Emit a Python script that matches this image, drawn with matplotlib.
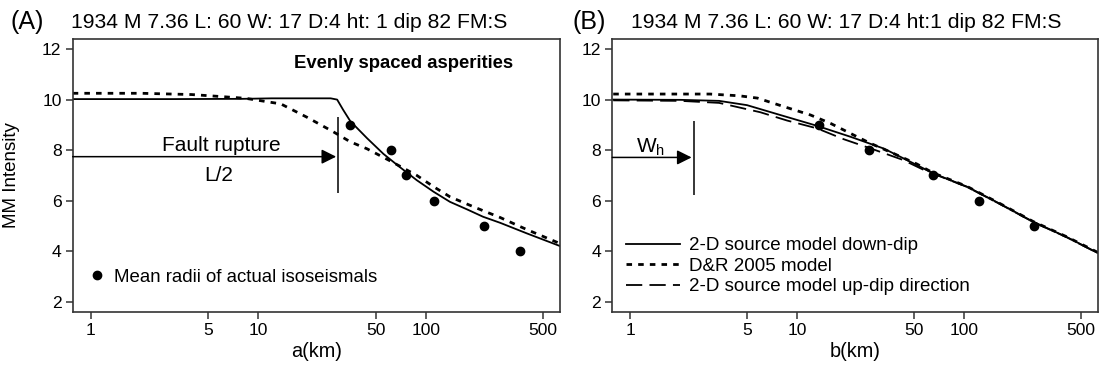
import matplotlib.pyplot as plt

plt.rcParams['font.family'] = ['Liberation Sans', 'DejaVu Sans']

# ---- data (distance km, MM intensity) ----
obs_a_km = [35.3, 62, 75.5, 111.6, 221, 366]
obs_a_mmi = [9, 8, 7, 6, 5, 4]

model_a_km = [0.78, 3, 8, 12, 20, 27, 29.5, 32, 35.3, 44.5, 55.7, 70, 88, 111, 139, 176, 219, 277, 400, 630]
model_a_mmi = [10.02, 10.02, 10.03, 10.05, 10.05, 10.05, 10.0, 9.6, 9.15, 8.47, 7.85, 7.32, 6.81, 6.35, 5.95, 5.65, 5.36, 5.12, 4.7, 4.2]

dr_a_km = [0.78, 2, 4, 6, 8.4, 13.6, 19.5, 27.9, 35.3, 44.5, 60, 88, 111, 139, 176, 219, 277, 400, 630]
dr_a_mmi = [10.25, 10.25, 10.2, 10.12, 10.05, 9.83, 9.3, 8.73, 8.33, 8.05, 7.6, 7.0, 6.55, 6.15, 5.86, 5.6, 5.33, 4.85, 4.3]

obs_b_km = [13.5, 26.8, 64.7, 122, 260]
obs_b_mmi = [9, 8, 7, 6, 5]

down_b_km = [0.79, 2, 3.4, 5, 8, 13, 21, 33, 52, 65, 104, 164, 259, 410, 630]
down_b_mmi = [10.0, 9.99, 9.95, 9.78, 9.38, 8.97, 8.52, 8.06, 7.41, 7.08, 6.55, 5.87, 5.16, 4.56, 3.93]

up_b_km = [0.79, 2, 3.4, 6, 8.7, 13.15, 19, 27.4, 43, 60, 65, 104, 164, 259, 410, 630]
up_b_mmi = [9.97, 9.95, 9.87, 9.5, 9.17, 8.86, 8.43, 8.07, 7.61, 7.15, 7.07, 6.54, 5.86, 5.15, 4.55, 3.92]

dr_b_km = [0.79, 3, 4.5, 5.77, 8.33, 12, 15.8, 22.8, 27.4, 37.6, 52, 65, 104, 164, 259, 410, 630]
dr_b_mmi = [10.22, 10.22, 10.15, 10.06, 9.72, 9.39, 9.06, 8.53, 8.27, 7.87, 7.45, 7.1, 6.56, 5.88, 5.17, 4.57, 3.95]

x_ticks = [1, 5, 10, 50, 100, 500]
y_ticks = [2, 4, 6, 8, 10, 12]
title_txt = "1934 M 7.36 L: 60 W: 17 D:4 ht: 1 dip 82 FM:S"
title_txt_b = "1934 M 7.36 L: 60 W: 17 D:4 ht:1 dip 82 FM:S"

fault_half_len = 30   # L/2
wh = 2.4

W, H = 1099, 373
fig = plt.figure(figsize=(W / 100, H / 100), dpi=100)
ax_a = fig.add_axes([72.7 / W, 61.3 / H, 487.3 / W, 272.7 / H])
ax_b = fig.add_axes([612.3 / W, 61.3 / H, 485.4 / W, 272.7 / H])

dr_style = dict(color='k', lw=2.0, linestyle=(0, (2.0, 2.2)))
up_style = dict(color='k', lw=1.3, linestyle=(0, (9, 4)))


def style_axes(ax, xlabel):
    ax.set_xscale('log')
    ax.set_xlim(0.78, 630)
    ax.set_ylim(1.6, 12.4)
    ax.set_xticks(x_ticks)
    ax.set_xticklabels([str(t) for t in x_ticks])
    ax.minorticks_off()
    ax.set_yticks(y_ticks)
    ax.tick_params(direction='out', length=5, width=1.1, labelsize=12.6, pad=3, color='#333333')
    for s in ax.spines.values():
        s.set_linewidth(1.2)
        s.set_color('#333333')
    ax.set_xlabel(xlabel, fontsize=14.3, labelpad=3)


# ---- panel A ----
ax = ax_a
ax.plot(model_a_km, model_a_mmi, color='k', lw=1.3)
ax.plot(dr_a_km, dr_a_mmi, **dr_style)
ax.plot(obs_a_km, obs_a_mmi, 'o', color='k', ms=6, label='Mean radii of actual isoseismals')
ax.vlines(fault_half_len, 6.31, 9.30, color='k', lw=1.1)
ax.annotate('', xy=(fault_half_len * 0.97, 7.74), xytext=(0, 7.74),
            xycoords='data', textcoords=ax.get_yaxis_transform(),
            arrowprops=dict(arrowstyle='-|>', color='k', lw=1.1, mutation_scale=22, shrinkA=0, shrinkB=0))
ax.text(6.0, 8.2, 'Fault rupture', ha='center', va='center', fontsize=15)
ax.text(5.8, 7.0, 'L/2', ha='center', va='center', fontsize=15)
ax.text(16.4, 11.44, 'Evenly spaced asperities', ha='left', va='center', fontsize=13.3, fontweight='bold')
ax.legend(loc='center left', bbox_to_anchor=(0.035, 0.126), frameon=False, fontsize=13.4,
          handlelength=0.8, handletextpad=0.5, borderpad=0, borderaxespad=0)
style_axes(ax, 'a(km)')
ax.set_ylabel('MM Intensity', fontsize=13.5)
ax.yaxis.set_label_coords(-0.108, 0.5)

# ---- panel B ----
ax = ax_b
ax.plot(obs_b_km, obs_b_mmi, 'o', color='k', ms=6)
ax.plot(down_b_km, down_b_mmi, color='k', lw=1.3, label='2-D source model down-dip')
ax.plot(dr_b_km, dr_b_mmi, label='D&R 2005 model', **dr_style)
ax.plot(up_b_km, up_b_mmi, label='2-D source model up-dip direction', **up_style)
ax.vlines(wh, 6.22, 9.17, color='k', lw=1.1)
ax.annotate('', xy=(wh * 0.97, 7.71), xytext=(0, 7.71),
            xycoords='data', textcoords=ax.get_yaxis_transform(),
            arrowprops=dict(arrowstyle='-|>', color='k', lw=1.1, mutation_scale=22, shrinkA=0, shrinkB=0))
ax.text(1.33, 8.13, 'W$_\\mathregular{h}$', ha='center', va='center', fontsize=15)
ax.legend(loc='lower left', bbox_to_anchor=(0.028, 0.06), frameon=False, fontsize=13.5,
          handlelength=2.9, handletextpad=0.45, labelspacing=0.18, borderpad=0, borderaxespad=0)
style_axes(ax, 'b(km)')

# ---- panel titles ----
fig.text(11 / W, 1 - 22 / H, '(A)', fontsize=18, ha='left', va='center')
fig.text(71 / W, 1 - 22 / H, title_txt, fontsize=15.2, ha='left', va='center')
fig.text(572 / W, 1 - 22 / H, '(B)', fontsize=18, ha='left', va='center')
fig.text(631 / W, 1 - 22 / H, title_txt_b, fontsize=15.2, ha='left', va='center')

fig.savefig('out.png', dpi=100)
